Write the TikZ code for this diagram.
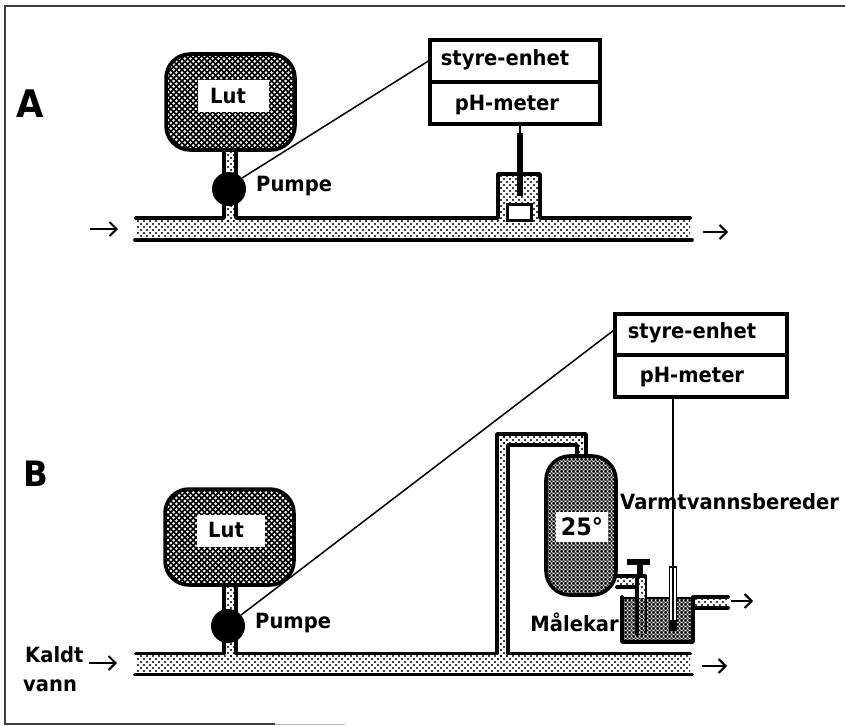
\documentclass[tikz,border=0pt]{standalone}
\usepackage{fontspec}
\setmainfont{DejaVu Sans}[BoldFont={DejaVu Sans Bold},BoldFeatures={FakeStretch=0.93}]
\usetikzlibrary{patterns,arrows.meta}
\pgfdeclarepatternformonly{pipedots}{\pgfpoint{-1.5pt}{-1.5pt}}{\pgfpoint{4.5pt}{4.5pt}}{\pgfpoint{6pt}{6pt}}{%
  \pgfpathcircle{\pgfpoint{0pt}{0pt}}{1.2pt}\pgfpathcircle{\pgfpoint{3pt}{3pt}}{1.2pt}\pgfusepath{fill}}
\pgfdeclarepatternformonly{tankdots}{\pgfpoint{-1.5pt}{-1.5pt}}{\pgfpoint{4.1pt}{4.1pt}}{\pgfpoint{5.6pt}{5.6pt}}{%
  \pgfpathcircle{\pgfpoint{0pt}{0pt}}{1.45pt}\pgfpathcircle{\pgfpoint{2.8pt}{2.8pt}}{1.45pt}\pgfusepath{fill}}
\pgfdeclarepatternformonly{fineholes}{\pgfpoint{-2pt}{-2pt}}{\pgfpoint{2pt}{2pt}}{\pgfpoint{4pt}{4pt}}{%
  \pgfpathcircle{\pgfpoint{0pt}{0pt}}{1.3pt}\pgfpathcircle{\pgfpoint{2pt}{2pt}}{1.3pt}\pgfpathcircle{\pgfpoint{-2pt}{-2pt}}{1.3pt}\pgfpathcircle{\pgfpoint{2pt}{-2pt}}{1.3pt}\pgfpathcircle{\pgfpoint{-2pt}{2pt}}{1.3pt}\pgfusepath{fill}}
\tikzset{
  x=1pt,y=-1pt,
  txt/.style={font=\fontsize{21}{22}\selectfont\bfseries,inner sep=0pt,text=black},
  biglabel/.style={font=\fontsize{38}{38}\selectfont\bfseries,inner sep=0pt},
  pipefill/.style={pattern=pipedots,pattern color=black},
  heavy/.style={line width=3.8pt,black,line cap=round,line join=round},
  wire/.style={line width=1.5pt,black},
  flow/.style={line width=2pt,-{Straight Barb[length=7pt,width=14pt,line width=2pt]}},
  tankbody/.style={fill=black,rounded corners=24pt},
  tankline/.style={line width=3.5pt,rounded corners=24pt},
  whitebox/.style={fill=white,inner sep=0pt},
  pump/.style={circle,fill=black,minimum size=34pt,inner sep=0pt},
  ctrl/.style={draw=black,line width=3.2pt,fill=white,inner sep=0pt},
}
\begin{document}
\begin{tikzpicture}
\useasboundingbox (0,0) rectangle (845,725);
\fill[white] (0,0) rectangle (845,725);
% frame
\draw[line width=1.2pt,black!75] (845,6) -- (5,6) -- (5,724) -- (275,724);
\draw[line width=1pt,black!30] (275,724) -- (345,724);

% ---------- A ----------
\fill[pipefill] (136,220) rectangle (690,239);
\fill[pipefill] (226,150) rectangle (234,222);
\fill[pipefill] (499,175) rectangle (539,220);
\draw[heavy] (136,218) -- (224,218) -- (224,151);
\draw[heavy] (236,151) -- (236,218) -- (498,218) -- (498,174) -- (540,174) -- (540,218) -- (690,218);
\draw[heavy] (135,240) -- (692,240);
\node[draw=black,line width=3pt,fill=white,minimum width=24pt,minimum height=16pt,inner sep=0pt] (sensA) at (519.5,212) {};
\draw[line width=6pt,black] (520,133) -- (520,196);
\draw[wire] (520,124) -- (520,133);
\fill[tankbody] (166,54) rectangle (295,150);
\fill[pattern=tankdots,pattern color=white,rounded corners=22pt] (168,56) rectangle (293,148);
\draw[tankline] (166,54) rectangle (295,150);
\node[whitebox,minimum width=71pt,minimum height=32pt] (lutboxA) at (233,96) {};
\node[txt] (lutA) at (228,96) {Lut};
\node[pump] (pumpA) at (229,189) {};
\node[txt,anchor=west] (pumpeA) at (256,186) {Pumpe};
\node[ctrl,minimum width=170pt,minimum height=42pt] (styA) at (515,61) {};
\node[ctrl,minimum width=170pt,minimum height=42pt] (phA) at (515,103) {};
\node[txt] (styAt) at (505,60) {styre-enhet};
\node[txt] (phAt) at (507,105) {pH-meter};
\draw[wire] (styA.west) -- (pumpA.40);
\node[biglabel] (labA) at (30,104) {A};
\coordinate (afs) at (90,229); \coordinate (afe) at (118,229);
\draw[flow] (afs) -- (afe);
\coordinate (ags) at (703,232); \coordinate (age) at (728,232);
\draw[flow] (ags) -- (age);

% ---------- B ----------
\fill[pipefill] (136,655) rectangle (690,673);
\fill[pipefill] (226,585) rectangle (234,657);
\fill[pipefill] (499,436) rectangle (507,657);
\fill[pipefill] (499,436) rectangle (583,443);
\fill[pipefill] (579,436) rectangle (584,456);
\draw[heavy] (136,653.5) -- (224,653.5) -- (224,586);
\draw[heavy] (236,586) -- (236,653.5) -- (497,653.5) -- (497,434) -- (586,434) -- (586,456);
\draw[heavy] (577,456) -- (577,445) -- (508,445) -- (508,653.5) -- (690,653.5);
\draw[heavy] (135,674.5) -- (692,674.5);
\fill[tankbody] (165,489) rectangle (294,585);
\fill[pattern=tankdots,pattern color=white,rounded corners=22pt] (167,491) rectangle (292,583);
\draw[tankline] (165,489) rectangle (294,585);
\node[whitebox,minimum width=68pt,minimum height=32pt] (lutboxB) at (231,531) {};
\node[txt] (lutB) at (226,530) {Lut};
\node[pump] (pumpB) at (228,626) {};
\node[txt,anchor=west] (pumpeB) at (255,623) {Pumpe};
\node[ctrl,minimum width=172pt,minimum height=41pt] (styB) at (701,334.5) {};
\node[ctrl,minimum width=172pt,minimum height=42pt] (phB) at (701,376) {};
\node[txt] (styBt) at (692,333) {styre-enhet};
\node[txt] (phBt) at (692,377) {pH-meter};
\draw[wire] ([yshift=4pt]styB.west) -- (pumpB.40);
% heater
\fill[pattern=fineholes,pattern color=black,rounded corners=24pt] (547,457) rectangle (615,594);
\draw[line width=3.6pt,rounded corners=24pt] (546,456) rectangle (616,595);
\node[fill=white,inner sep=0pt,minimum width=52pt,minimum height=30pt] (t25box) at (582,527) {};
\node[txt,font=\fontsize{24}{24}\selectfont\bfseries] (t25) at (582,527) {25°};
% valve and pipes
\fill[pipefill] (617,577) rectangle (640,586);
\fill[pipefill] (640,577) rectangle (645,635);
\draw[heavy] (617,576) -- (645,576);
\draw[heavy] (617,587) -- (637,587);
\draw[line width=6pt] (640,565) -- (640,576);
\node[fill=black,minimum width=23pt,minimum height=6pt,inner sep=0pt] (handle) at (638.5,562) {};
% vessel
\fill[pattern=fineholes,pattern color=black] (624,598) rectangle (692,641);
\draw[heavy] (637,578) -- (637,634);
\draw[line width=1.5pt] (646,576) -- (646,634);
\draw[heavy] (622,597) -- (622,642) -- (693,642) -- (693,598);
\draw[line width=1.5pt] (622,598) -- (637,598);
\draw[line width=1.5pt] (646,598) -- (693,598);
\fill[pattern=pipedots,pattern color=black] (694,599) rectangle (727,606);
\draw[heavy] (693,597) -- (728,597);
\draw[heavy] (693,608) -- (728,608);
% probe
\node[draw=black,line width=1.8pt,fill=white,minimum width=7pt,minimum height=62pt,inner sep=0pt] (probeB) at (673,598) {};
\fill[black] (669,620) rectangle (677,631);
\draw[wire] (phB.south -| probeB) -- (probeB.north);
\draw[wire] (673,567) -- (673,622);
% labels
\node[txt,anchor=west] (varm) at (620,502) {Varmtvannsbereder};
\node[txt,anchor=east] (male) at (619,622) {Målekar};
\node[txt,anchor=west] (kaldt) at (25,655) {Kaldt};
\node[txt,anchor=west] (vannl) at (23,686) {vann};
\node[biglabel,font=\fontsize{35}{35}\selectfont\bfseries] (labB) at (36,474) {B};
\coordinate (bfs) at (89,663); \coordinate (bfe) at (117,663);
\draw[flow] (bfs) -- (bfe);
\coordinate (bgs) at (702,666); \coordinate (bge) at (727,666);
\draw[flow] (bgs) -- (bge);
\coordinate (bhs) at (731,601); \coordinate (bhe) at (753,601);
\draw[flow] (bhs) -- (bhe);
\end{tikzpicture}
\end{document}
